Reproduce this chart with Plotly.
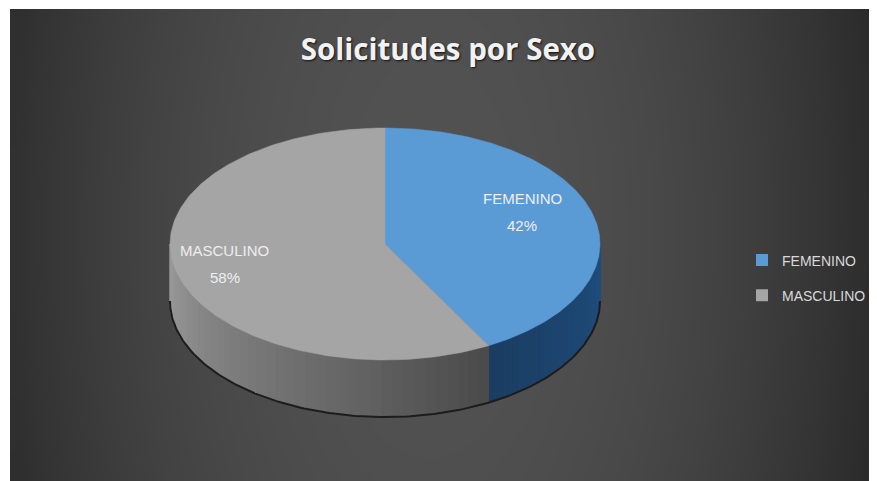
import numpy as np
import plotly.graph_objects as go

# ---------------- data ----------------
CATEGORIES = ["FEMENINO", "MASCULINO"]
VALUES = [42, 58]
TITLE = "Solicitudes por Sexo"

# ---------------- style ----------------
PAGE_W, PAGE_H = 877, 481
BODY = 8                      # browser default body margin
W, H = PAGE_W - BODY, PAGE_H - BODY
CX, CY, RX, RY, DEPTH = 385, 244, 215, 116, 57
TOP_COLORS = ["#5b9bd5", "#a5a5a5"]
SIDE_DARK = ["#1f4f80", "#4a4a4a"]
SIDE_LIGHT = ["#1b3d62", "#9c9c9c"]
LABEL_R = [0.66, 0.77]
LABEL_DY = [-13, -2]
FONT = "Liberation Sans, Arial, sans-serif"


def px(xs):
    return (xs - BODY) / W


def py(ys):
    return 1 - (ys - BODY) / H


fig = go.Figure()

# background gradient (decoration)
n_gx, n_gy = 86, 47
x0, x1, y0, y1 = 10, 870, 9, 481
dxg, dyg = (x1 - x0) / n_gx, (y1 - y0) / n_gy
gx = x0 + dxg * (np.arange(n_gx) + 0.5)
gy = y0 + dyg * (np.arange(n_gy) + 0.5)
XX, YY = np.meshgrid(gx, gy)
d2 = ((XX - 430) / 450) ** 2 + ((YY - 230) / 900) ** 2
Z = np.clip(1 - d2, 0, 1)
fig.add_trace(go.Heatmap(x=gx, y=gy, z=Z, zmin=0, zmax=1, zsmooth="best",
                         colorscale=[[0, "#2b2b2b"], [1, "#525252"]],
                         showscale=False, hoverinfo="skip"))


def ell(theta, dy=0.0):
    t = np.radians(theta)
    return CX + RX * np.sin(t), CY - RY * np.cos(t) + dy


def hex2rgb(h):
    h = h.lstrip("#")
    return np.array([int(h[i:i + 2], 16) for i in (0, 2, 4)], float)


def mix(a, b, f):
    c = hex2rgb(a) * (1 - f) + hex2rgb(b) * f
    return "rgb(%d,%d,%d)" % tuple(c.round())


total = float(sum(VALUES))
angles = np.cumsum([0] + [v / total * 360 for v in VALUES])

# ---- side walls (visible front half: 90..270 deg clockwise from top) ----
for i in range(len(VALUES)):
    a0, a1 = angles[i], angles[i + 1]
    s0, s1 = max(a0, 90), min(a1, 270)
    if s1 <= s0:
        continue
    n = 40
    edges = np.linspace(s0, s1, n + 1)
    for k in range(n):
        th = np.linspace(edges[k], edges[k + 1], 4)
        xt, yt = ell(th)
        xb, yb = ell(th[::-1], DEPTH)
        col = mix(SIDE_DARK[i], SIDE_LIGHT[i], (k + 0.5) / n)
        fig.add_trace(go.Scatter(x=np.r_[xt, xb, xt[0]], y=np.r_[yt, yb, yt[0]],
                                 mode="lines", fill="toself", fillcolor=col,
                                 line=dict(color=col, width=1),
                                 hoverinfo="skip", showlegend=False))
# dark bottom rim
thr = np.linspace(90, 270, 200)
xr, yr = ell(thr, DEPTH)
fig.add_trace(go.Scatter(x=xr, y=yr, mode="lines", line=dict(color="#1c1c1c", width=2),
                         hoverinfo="skip", showlegend=False))

# ---- top faces ----
for i in range(len(VALUES)):
    th = np.linspace(angles[i], angles[i + 1], 200)
    xt, yt = ell(th)
    fig.add_trace(go.Scatter(x=np.r_[CX, xt, CX], y=np.r_[CY, yt, CY],
                             mode="lines", fill="toself", fillcolor=TOP_COLORS[i],
                             line=dict(color=TOP_COLORS[i], width=0.5),
                             hoverinfo="skip", showlegend=False))

# ---- data labels ----
for i, (c, v) in enumerate(zip(CATEGORIES, VALUES)):
    mid = (angles[i] + angles[i + 1]) / 2
    t = np.radians(mid)
    lx = CX + LABEL_R[i] * RX * np.sin(t)
    ly = CY - LABEL_R[i] * RY * np.cos(t) + LABEL_DY[i]
    for txt, off in ((c, -13.5), ("%d%%" % round(v / total * 100), 13.5)):
        fig.add_annotation(x=lx, y=ly + off, text=txt, showarrow=False,
                           xanchor="center", yanchor="middle",
                           font=dict(family=FONT, size=15, color="#eeeeee"))

# ---- legend entries ----
for i, c in enumerate(CATEGORIES):
    fig.add_trace(go.Scatter(x=[None], y=[None], mode="markers", name=c,
                             legendgroup=c,
                             marker=dict(symbol="square", size=8, color=TOP_COLORS[i])))

fig.update_layout(
    width=W, height=H,
    margin=dict(l=0, r=0, t=0, b=0),
    paper_bgcolor="white", plot_bgcolor="white",
    xaxis=dict(range=[BODY, PAGE_W], visible=False, fixedrange=True),
    yaxis=dict(range=[PAGE_H, BODY], visible=False, fixedrange=True),
    showlegend=True,
    legend=dict(x=px(742), y=py(278), xanchor="left", yanchor="middle",
                bgcolor="rgba(0,0,0,0)", tracegroupgap=14, itemsizing="constant",
                font=dict(family=FONT, size=14, color="#d9d9d9")),
    title=dict(text="<b>" + TITLE + "</b>", x=px(448), xanchor="center",
               y=py(50), yanchor="middle",
               font=dict(family="Open Sans, sans-serif", size=29.5, color="#f2f2f2",
                         shadow="1px 1px 2px #111")),
)

fig.write_html("out.html")
